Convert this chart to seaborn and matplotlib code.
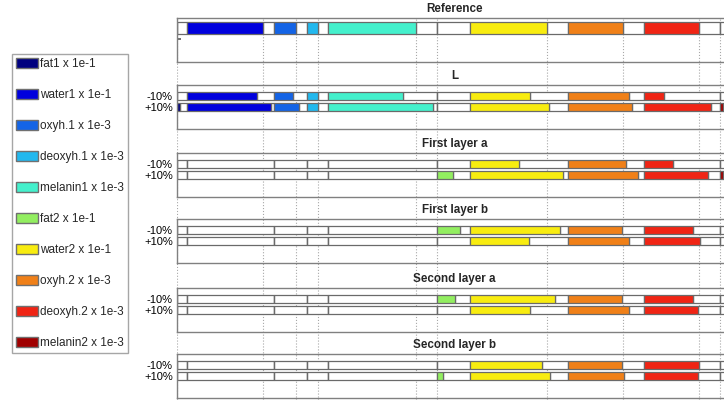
import numpy as np
import matplotlib
matplotlib.use('Agg')
import matplotlib.pyplot as plt
from matplotlib.patches import Patch
import seaborn as sns

# Components (stacked slots, left to right)
components = ['fat1', 'water1', 'oxyh.1', 'deoxyh.1', 'melanin1',
              'fat2', 'water2', 'oxyh.2', 'deoxyh.2', 'melanin2']
scales = ['1e-1', '1e-1', '1e-3', '1e-3', '1e-3',
          '1e-1', '1e-1', '1e-3', '1e-3', '1e-3']
colors = ['#00007f', '#0000dd', '#1464e6', '#22b8ee', '#44f0cc',
          '#92ee60', '#f8ec10', '#f08018', '#f02414', '#a00000']

# Scaled values
ref = [0, 76, 22, 11, 88, 0, 77, 55, 55, 0]

L_minus = [0, 70, 19, 11, 75, 0, 60, 61, 20, 0]
L_plus = [3, 84, 25, 11, 105, 0, 79, 64, 67, 3]
first_a_minus = [0, 0, 0, 0, 0, 0, 49, 58, 29, 0]
first_a_plus = [0, 0, 0, 0, 0, 16, 93, 70, 64, 3]
first_b_minus = [0, 0, 0, 0, 0, 23, 90, 54, 49, 0]
first_b_plus = [0, 0, 0, 0, 0, 0, 59, 61, 56, 0]
second_a_minus = [0, 0, 0, 0, 0, 18, 85, 54, 49, 0]
second_a_plus = [0, 0, 0, 0, 0, 0, 60, 61, 54, 0]
second_b_minus = [0, 0, 0, 0, 0, 0, 72, 54, 55, 0]
second_b_plus = [0, 0, 0, 0, 0, 6, 80, 56, 54, 0]

# Range allotted to each component
slot_width = np.array([10, 87, 33, 21, 109, 33, 98, 76, 76, 12])

panel_titles = ['L', 'First layer a', 'First layer b', 'Second layer a', 'Second layer b']
row_labels = ['-10%', '+10%']
minus_rows = [L_minus, first_a_minus, first_b_minus, second_a_minus, second_b_minus]
plus_rows = [L_plus, first_a_plus, first_b_plus, second_a_plus, second_b_plus]

sns.set_theme(style='white')
plt.rcParams['font.family'] = ['Liberation Sans', 'DejaVu Sans']
palette = sns.color_palette(colors)

W, H = 724, 400
fig = plt.figure(figsize=(W / 100, H / 100), dpi=100)

slot_start = np.concatenate([[0], np.cumsum(slot_width)[:-1]])
x_max = slot_width.sum()
edge = '#6a6a6a'


def px_axes(left, top, width, height):
    return fig.add_axes([left / W, 1 - (top + height) / H, width / W, height / H])


def draw_row(ax, y, values, h):
    values = np.array(values)
    # white remainder of each slot
    ax.barh(y, slot_width - values, left=slot_start + values, height=h,
            color='white', edgecolor=edge, linewidth=0.9)
    for i in range(len(components)):
        ax.barh(y, values[i], left=slot_start[i], height=h,
                color=palette[i], edgecolor=edge, linewidth=0.9)


def style_panel(ax, title):
    ax.set_facecolor('none')
    ax.set_xlim(0, x_max)
    ax.set_ylim(4, 0)
    ax.set_xticks([])
    for s in ax.spines.values():
        s.set_color('#808080')
        s.set_linewidth(1.0)
        s.set_visible(True)
    ax.set_title(title, fontsize=8.4, fontweight='bold', pad=4.5)


# dotted guide lines at the reference values
bg = px_axes(177, 18, x_max, 382)
bg.set_xlim(0, x_max)
bg.axis('off')
bg.vlines(slot_start + np.array(ref), 0, 1, transform=bg.get_xaxis_transform(),
          colors='#a8a8a8', linestyles=':', linewidth=0.8)

# Reference panel
ax = px_axes(177, 18, x_max, 44)
draw_row(ax, 0.9, ref, 1.1)
style_panel(ax, 'Reference')
ax.set_yticks([1.9])
ax.set_yticklabels([''])
ax.tick_params(axis='y', direction='in', length=3, color='#606060', left=True)

# Perturbation panels
tops = [85, 153, 219, 288, 354]
for top, title, minus, plus in zip(tops, panel_titles, minus_rows, plus_rows):
    ax = px_axes(177, top, x_max, 44)
    draw_row(ax, 1, minus, 0.78)
    draw_row(ax, 2, plus, 0.78)
    style_panel(ax, title)
    ax.set_yticks([1, 2])
    ax.set_yticklabels(row_labels, fontsize=8)
    ax.tick_params(axis='y', length=0, pad=3, labelcolor='black')

# Legend
handles = [Patch(facecolor=palette[i], edgecolor='#707070', linewidth=1.0)
           for i in range(len(components))]
labels = [f'{c} x {s}' for c, s in zip(components, scales)]
leg = fig.legend(handles, labels, loc='upper left', bbox_to_anchor=(12 / W, 1 - 54 / H),
                 borderaxespad=0, fontsize=8.5, frameon=True, fancybox=False,
                 handlelength=1.86, handleheight=0.85, handletextpad=0.2,
                 labelspacing=1.61, borderpad=0.35)
leg.get_frame().set_edgecolor('#909090')
leg.get_frame().set_linewidth(1.0)

fig.savefig('out.png', dpi=100)
